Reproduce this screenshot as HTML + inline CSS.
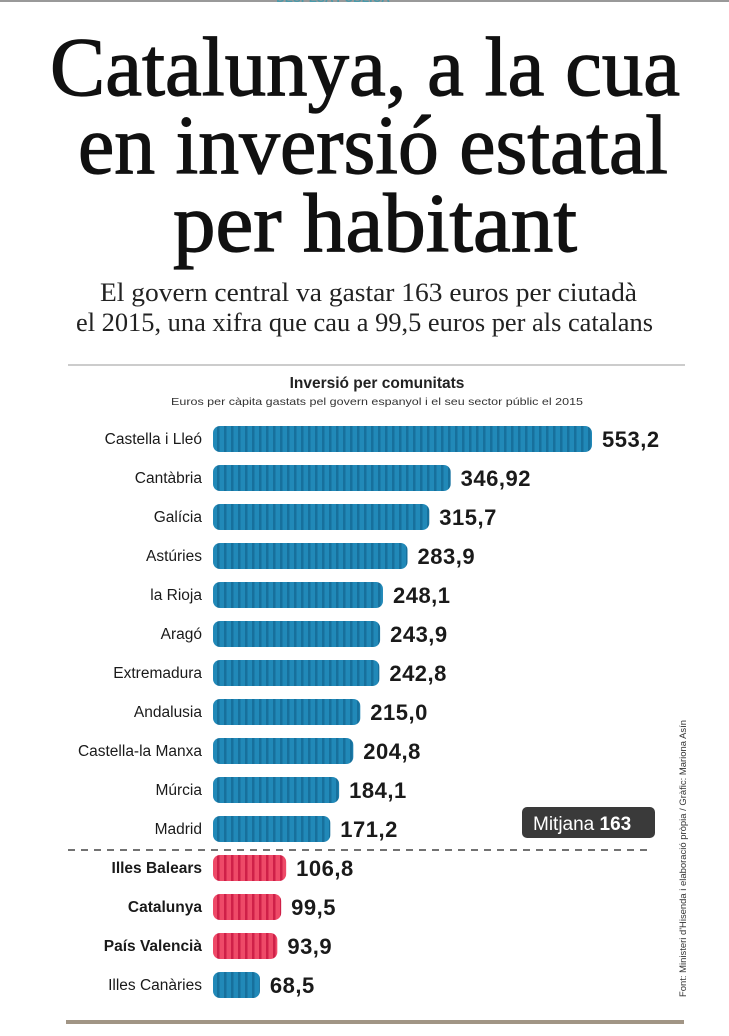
<!DOCTYPE html>
<html><head><meta charset="utf-8">
<style>
html,body{margin:0;padding:0;background:#fff;}
svg{display:block;}
</style></head>
<body>
<svg id="chart" width="729" height="1036" viewBox="0 0 729 1036" xmlns="http://www.w3.org/2000/svg">
<defs>
<pattern id="stripeBlue" patternUnits="userSpaceOnUse" width="7" height="10">
<rect width="7" height="10" fill="#2189b8"/><rect width="2.5" height="10" fill="#17709c"/>
</pattern>
<pattern id="stripeRed" patternUnits="userSpaceOnUse" width="7" height="10">
<rect width="7" height="10" fill="#ee4a68"/><rect width="2.5" height="10" fill="#cf2048"/>
</pattern>
</defs>
<rect x="0" y="0" width="729" height="2" fill="#999"/>
<text x="333" y="2" text-anchor="middle" font-family="Liberation Sans, sans-serif" font-weight="bold" font-size="12" fill="#4a9aaa">DESPESA PÚBLICA</text>
<g font-family="Liberation Serif, serif" fill="#111" stroke="#111" stroke-width="1.2">
<text x="50" y="95" font-size="84" textLength="630" lengthAdjust="spacingAndGlyphs">Catalunya, a la cua</text>
<text x="78" y="173" font-size="84" textLength="590" lengthAdjust="spacingAndGlyphs">en inversió estatal</text>
<text x="173" y="251" font-size="84" textLength="404" lengthAdjust="spacingAndGlyphs">per habitant</text>
</g>
<g font-family="Liberation Serif, serif" fill="#222" font-size="26">
<text x="100" y="301" textLength="537" lengthAdjust="spacingAndGlyphs">El govern central va gastar 163 euros per ciutadà</text>
<text x="76" y="331" textLength="577" lengthAdjust="spacingAndGlyphs">el 2015, una xifra que cau a 99,5 euros per als catalans</text>
</g>
<rect x="68" y="364" width="617" height="2" fill="#ccc"/>
<text x="377" y="388" text-anchor="middle" font-family="Liberation Sans, sans-serif" font-weight="bold" font-size="15.5" fill="#222">Inversió per comunitats</text>
<text x="377" y="405" text-anchor="middle" font-family="Liberation Sans, sans-serif" font-size="10.5" fill="#333" textLength="412" lengthAdjust="spacingAndGlyphs">Euros per càpita gastats pel govern espanyol i el seu sector públic el 2015</text>
<g id="bars"></g>
<line x1="68" y1="850" x2="648" y2="850" stroke="#444" stroke-width="1.5" stroke-dasharray="7,6"/>
<g>
<rect x="522" y="807" width="133" height="31" rx="5" fill="#3a3a3a"/>
<text x="533" y="830" font-family="Liberation Sans, sans-serif" font-size="19" fill="#fff">Mitjana <tspan font-weight="bold">163</tspan></text>
</g>
<text transform="translate(686,997) rotate(-90)" font-family="Liberation Sans, sans-serif" font-size="9.5" fill="#333" textLength="277" lengthAdjust="spacingAndGlyphs">Font: Ministeri d'Hisenda i elaboració pròpia / Gràfic: Mariona Asín</text>
<rect x="66" y="1020" width="618" height="4" fill="#8a7a66" opacity="0.8"/>
</svg>
<script>
const regions = ["Castella i Lleó","Cantàbria","Galícia","Astúries","la Rioja","Aragó","Extremadura","Andalusia","Castella-la Manxa","Múrcia","Madrid","Illes Balears","Catalunya","País Valencià","Illes Canàries"];
const values = [553.2,346.92,315.7,283.9,248.1,243.9,242.8,215.0,204.8,184.1,171.2,106.8,99.5,93.9,68.5];
const labels = ["553,2","346,92","315,7","283,9","248,1","243,9","242,8","215,0","204,8","184,1","171,2","106,8","99,5","93,9","68,5"];
const highlighted = [false,false,false,false,false,false,false,false,false,false,false,true,true,true,false];

const NS="http://www.w3.org/2000/svg";
const x0=213, pxPerUnit=379/553.2;
const xScale=v=>v*pxPerUnit;
const yScale=i=>439+i*39;
const g=document.getElementById('bars');
regions.forEach((r,i)=>{
  const cy=yScale(i), w=xScale(values[i]);
  const lab=document.createElementNS(NS,'text');
  lab.setAttribute('x',202);lab.setAttribute('y',cy+5);
  lab.setAttribute('text-anchor','end');
  lab.setAttribute('font-family','Liberation Sans, sans-serif');
  lab.setAttribute('font-size','15.5');
  lab.setAttribute('font-weight',highlighted[i]?'bold':'normal');
  lab.setAttribute('fill','#1a1a1a');
  lab.textContent=r;
  
  
  g.appendChild(lab);
  const b=document.createElementNS(NS,'rect');
  b.setAttribute('x',x0);b.setAttribute('y',cy-13);
  b.setAttribute('width',w);b.setAttribute('height',26);
  b.setAttribute('rx',7);
  b.setAttribute('fill',highlighted[i]?'url(#stripeRed)':'url(#stripeBlue)');
  
  
  g.appendChild(b);
  const v=document.createElementNS(NS,'text');
  v.setAttribute('x',x0+w+10);v.setAttribute('y',cy+8);
  v.setAttribute('font-family','Liberation Sans, sans-serif');
  v.setAttribute('font-size','22');
  v.setAttribute('letter-spacing','0.5');
  v.setAttribute('font-weight','bold');
  v.setAttribute('fill','#1a1a1a');
  v.textContent=labels[i];
  
  
  g.appendChild(v);
});
</script>
</body></html>
